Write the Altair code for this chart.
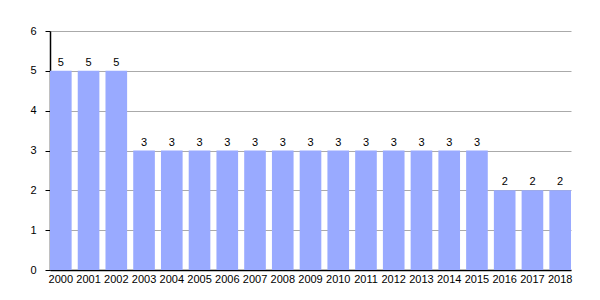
import altair as alt
import pandas as pd

years = [str(y) for y in range(2000, 2019)]
values = [5, 5, 5, 3, 3, 3, 3, 3, 3, 3, 3, 3, 3, 3, 3, 3, 2, 2, 2]

df = pd.DataFrame({"year": years, "value": values})

x = alt.X("year:N", sort=years,
          scale=alt.Scale(paddingInner=0.22, paddingOuter=0),
          axis=alt.Axis(title=None, labelAngle=0, ticks=False, domainColor="black",
                        labelColor="black", labelFontSize=11, labelPadding=3,
                        labelFont="Liberation Sans"))
y = alt.Y("value:Q", scale=alt.Scale(domain=[0, 6], nice=False),
          axis=alt.Axis(title=None, values=[0, 1, 2, 3, 4, 5, 6], grid=True,
                        gridColor="#aaaaaa", domainColor="black", tickColor="black",
                        tickSize=5, labelColor="black", labelFontSize=11,
                        labelPadding=9, labelFont="Liberation Sans",
                        labelOverlap=False))

bars = alt.Chart(df).mark_bar(color="#99aaff").encode(x=x, y=y)
text = alt.Chart(df).mark_text(dy=-8, fontSize=11, font="Liberation Sans", color="black").encode(
    x=x, y=y, text="value:Q")

chart = (bars + text).properties(
    width=521, height=239,
    autosize=alt.AutoSizeParams(type="none"),
    padding={"left": 50, "top": 31, "right": 29, "bottom": 30},
).configure_view(stroke=None).configure_axis(domainWidth=1.5)

chart.save("out.html", embed_options={"renderer": "svg", "actions": False})
